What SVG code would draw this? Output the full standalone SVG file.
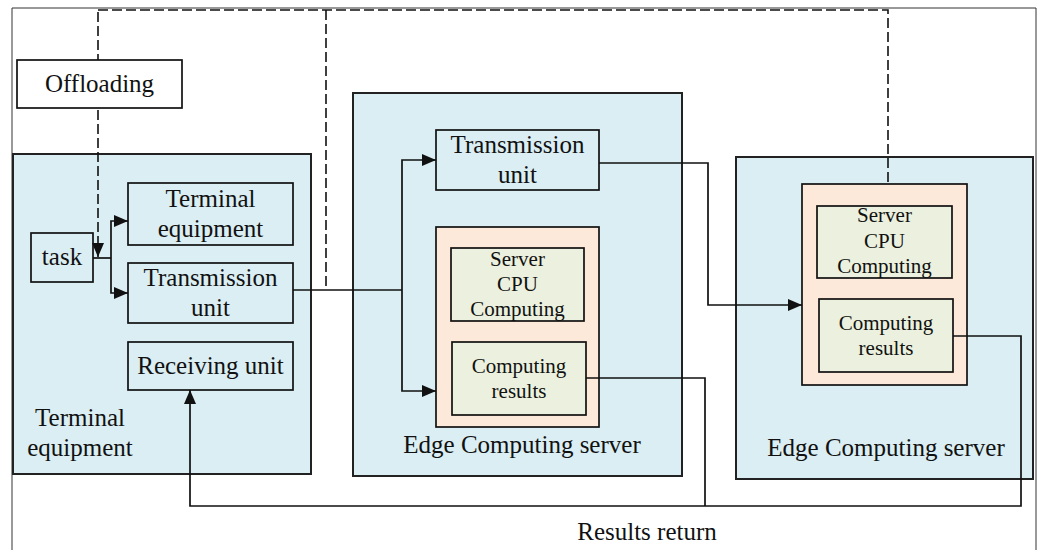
<svg xmlns="http://www.w3.org/2000/svg" width="1042" height="550" viewBox="0 0 1042 550">
  <defs>
    <style>
      .frame { fill: none; stroke: #333; stroke-width: 1; }
      .outer { fill: #DAEEF3; stroke: #222; stroke-width: 2; }
      .unit { fill: #DAEEF3; stroke: #111; stroke-width: 1.7; }
      .plain { fill: #fff; stroke: #111; stroke-width: 1.7; }
      .core { fill: #FDE9D9; stroke: #111; stroke-width: 1.7; }
      .calc { fill: #EBF1DE; stroke: #111; stroke-width: 1.7; }
      .lbl { font-family: "Liberation Serif", "Times New Roman", serif; font-size: 25px; fill: #111; text-anchor: middle; }
      .sm { font-size: 21px; }
      .wire { fill: none; stroke: #111; stroke-width: 1.7; }
      .dash { fill: none; stroke: #111; stroke-width: 1.6; stroke-dasharray: 10 4; }
    </style>
    <marker id="arrow" viewBox="0 0 14 12" refX="14" refY="6" markerWidth="14" markerHeight="12" markerUnits="userSpaceOnUse" orient="auto">
      <path d="M0,0 L14,6 L0,12 z" fill="#111"/>
    </marker>
  </defs>

  <rect x="0" y="0" width="1042" height="550" fill="#fff"/>

  <!-- surrounding frame -->
  <path class="frame" d="M12,560 V8 H1036 V560"/>

  <!-- terminal side -->
  <g id="terminal">
    <rect class="outer" x="13" y="154" width="298" height="320"/>
    <text class="lbl" x="80" y="426">Terminal</text>
    <text class="lbl" x="80" y="456">equipment</text>
  </g>
  <g id="task">
    <rect class="unit" x="31" y="233" width="62" height="49"/>
    <text class="lbl" x="62" y="265">task</text>
  </g>
  <g id="terminal-equipment">
    <rect class="unit" x="128" y="183" width="165" height="62"/>
    <text class="lbl" x="210.5" y="207">Terminal</text>
    <text class="lbl" x="210.5" y="237">equipment</text>
  </g>
  <g id="terminal-transmission">
    <rect class="unit" x="128" y="263" width="165" height="60"/>
    <text class="lbl" x="210.5" y="286">Transmission</text>
    <text class="lbl" x="210.5" y="316">unit</text>
  </g>
  <g id="receiving">
    <rect class="unit" x="128" y="342" width="165" height="48"/>
    <text class="lbl" x="210.5" y="374">Receiving unit</text>
  </g>

  <!-- first edge server -->
  <g id="edge-server-1">
    <rect class="outer" x="353" y="93" width="329" height="383"/>
    <text class="lbl" x="522" y="453">Edge Computing server</text>
  </g>
  <g id="edge1-transmission">
    <rect class="unit" x="436" y="130" width="163" height="60"/>
    <text class="lbl" x="517.5" y="153">Transmission</text>
    <text class="lbl" x="517.5" y="183">unit</text>
  </g>
  <g id="edge1-core">
    <rect class="core" x="436" y="227" width="163" height="200"/>
  </g>
  <g id="edge1-cpu">
    <rect class="calc" x="451" y="248" width="133" height="73"/>
    <text class="lbl sm" x="517.5" y="266">Server</text>
    <text class="lbl sm" x="517.5" y="291">CPU</text>
    <text class="lbl sm" x="517.5" y="316">Computing</text>
  </g>
  <g id="edge1-results">
    <rect class="calc" x="452" y="342" width="134" height="73"/>
    <text class="lbl sm" x="519" y="373">Computing</text>
    <text class="lbl sm" x="519" y="398">results</text>
  </g>

  <!-- second edge server -->
  <g id="edge-server-2">
    <rect class="outer" x="736" y="157" width="297" height="322"/>
    <text class="lbl" x="886" y="456">Edge Computing server</text>
  </g>
  <g id="edge2-core">
    <rect class="core" x="802" y="184" width="165" height="201"/>
  </g>
  <g id="edge2-cpu">
    <rect class="calc" x="817" y="206" width="135" height="72"/>
    <text class="lbl sm" x="884.5" y="222">Server</text>
    <text class="lbl sm" x="884.5" y="248">CPU</text>
    <text class="lbl sm" x="884.5" y="273">Computing</text>
  </g>
  <g id="edge2-results">
    <rect class="calc" x="819" y="299" width="134" height="73"/>
    <text class="lbl sm" x="886" y="330">Computing</text>
    <text class="lbl sm" x="886" y="355">results</text>
  </g>

  <g id="results-return">
    <text class="lbl" x="647" y="540">Results return</text>
  </g>

  <!-- connectors -->
  <g id="connectors">
    <!-- offloading decision paths -->
    <path class="dash" d="M98,12 V257" marker-end="url(#arrow)"/>
    <path class="dash" d="M98,10 H888 V184"/>
    <path class="dash" d="M326,10 V290"/>
    <!-- task split -->
    <path class="wire" d="M93,258 H111"/>
    <path class="wire" d="M111,258 V221 H128" marker-end="url(#arrow)"/>
    <path class="wire" d="M111,258 V293 H128" marker-end="url(#arrow)"/>
    <!-- uplink to first edge server -->
    <path class="wire" d="M293,290 H402"/>
    <path class="wire" d="M402,290 V160 H436" marker-end="url(#arrow)"/>
    <path class="wire" d="M402,290 V391 H436" marker-end="url(#arrow)"/>
    <!-- relay to second edge server -->
    <path class="wire" d="M599,163 H708 V305 H802" marker-end="url(#arrow)"/>
    <!-- results return -->
    <path class="wire" d="M586,378 H705 V506"/>
    <path class="wire" d="M953,336 H1021 V506 H190 V390" marker-end="url(#arrow)"/>
  </g>

  <!-- label box sits on top of the dashed offloading line -->
  <g id="offloading">
    <rect class="plain" x="17" y="60" width="165" height="48"/>
    <text class="lbl" x="99.5" y="92">Offloading</text>
  </g>
</svg>
